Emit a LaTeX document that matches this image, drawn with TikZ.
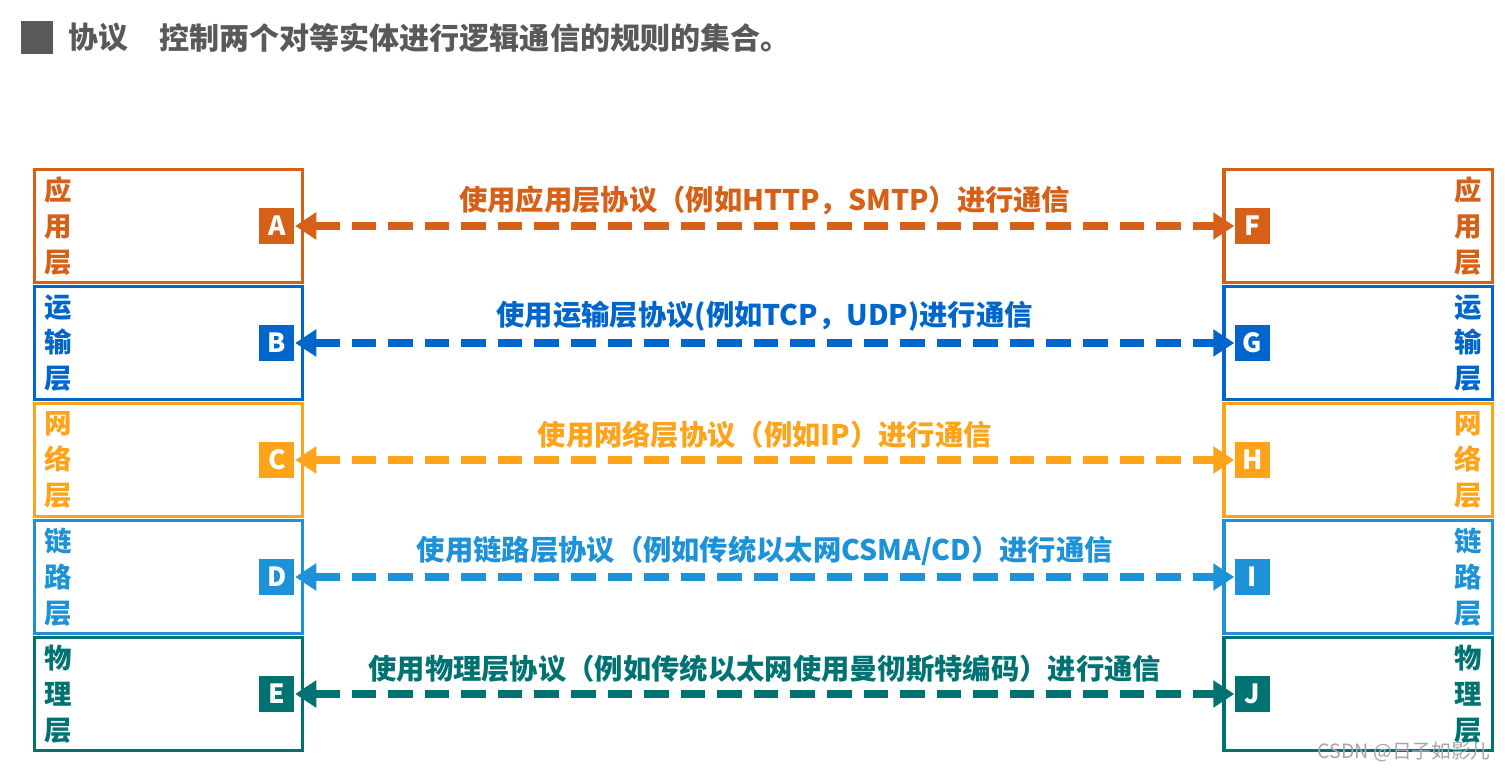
\documentclass[tikz,border=0pt]{standalone}
\usepackage{fontspec}
\newfontfamily\cjk{Noto Sans CJK SC}
\usetikzlibrary{arrows.meta, positioning}
\definecolor{titleGray}{RGB}{89, 89, 89}
\definecolor{appOrange}{RGB}{214, 96, 24}
\definecolor{tranBlue}{RGB}{0, 102, 204}
\definecolor{netAmber}{RGB}{255, 163, 26}
\definecolor{linkBlue}{RGB}{30, 146, 216}
\definecolor{phyTeal}{RGB}{0, 114, 114}

\begin{document}
\begin{tikzpicture}[
    x=0.01cm, y=-0.01cm,
    font=\cjk\bfseries,
    % Layer box (stacked protocol layer)
    layer/.style={
        draw,
        rectangle,
        line width=0.9pt,
        minimum width=2.68cm,
        minimum height=1.13cm,
        inner xsep=0.1cm,
        inner ysep=0pt,
        text width=2.48cm,
        font=\cjk\bfseries\fontsize{7.8}{10.2}\selectfont
    },
    layerL/.style={layer, align=left},
    layerR/.style={layer, align=right},
    % Peer entity tag
    peer/.style={
        rectangle,
        minimum size=0.35cm,
        inner sep=0pt,
        text=white,
        font=\cjk\bfseries\fontsize{7.5}{8}\selectfont
    },
    % Logical communication connector
    comm/.style={
        line width=2.4pt,
        dash pattern=on 7pt off 3.4pt,
        {Triangle[length=6pt,width=7.4pt]}-{Triangle[length=6pt,width=7.4pt]}
    },
    commlabel/.style={
        above=1pt,
        inner sep=1pt,
        font=\cjk\bfseries\fontsize{8.05}{10}\selectfont
    }
]
    \useasboundingbox (0,0) rectangle (1505,773);

    % Title
    \node (mark) [fill=titleGray, minimum width=0.31cm, minimum height=0.32cm, inner sep=0pt] at (37,37.5) {};
    \node (proto) [right=0.15cm of mark, inner sep=0pt, text=titleGray, font=\cjk\bfseries\fontsize{8.5}{10}\selectfont] {协议};
    \node (defn) [right=0.29cm of proto, inner sep=0pt, text=titleGray, font=\cjk\bfseries\fontsize{8.55}{10}\selectfont] {控制两个对等实体进行逻辑通信的规则的集合。};

    % Left stack
    \node (appL) [layerL, draw=appOrange, text=appOrange] at (168.5,226) {应\\用\\层};
    \node (tranL) [layerL, draw=tranBlue, text=tranBlue] at (168.5,343) {运\\输\\层};
    \node (netL) [layerL, draw=netAmber, text=netAmber] at (168.5,460) {网\\络\\层};
    \node (linkL) [layerL, draw=linkBlue, text=linkBlue] at (168.5,577) {链\\路\\层};
    \node (phyL) [layerL, draw=phyTeal, text=phyTeal] at (168.5,694) {物\\理\\层};

    % Right stack
    \node (appR) [layerR, draw=appOrange, text=appOrange] at (1358,226) {应\\用\\层};
    \node (tranR) [layerR, draw=tranBlue, text=tranBlue] at (1358,343) {运\\输\\层};
    \node (netR) [layerR, draw=netAmber, text=netAmber] at (1358,460) {网\\络\\层};
    \node (linkR) [layerR, draw=linkBlue, text=linkBlue] at (1358,577) {链\\路\\层};
    \node (phyR) [layerR, draw=phyTeal, text=phyTeal] at (1358,694) {物\\理\\层};

    % Peer entities
    \node (A) [peer, fill=appOrange, left=0.09cm of appL.east] {A};
    \node (B) [peer, fill=tranBlue, left=0.09cm of tranL.east] {B};
    \node (C) [peer, fill=netAmber, left=0.09cm of netL.east] {C};
    \node (D) [peer, fill=linkBlue, left=0.09cm of linkL.east] {D};
    \node (E) [peer, fill=phyTeal, left=0.09cm of phyL.east] {E};
    \node (F) [peer, fill=appOrange, right=0.12cm of appR.west] {F};
    \node (G) [peer, fill=tranBlue, right=0.12cm of tranR.west] {G};
    \node (H) [peer, fill=netAmber, right=0.12cm of netR.west] {H};
    \node (I) [peer, fill=linkBlue, right=0.12cm of linkR.west] {I};
    \node (J) [peer, fill=phyTeal, right=0.12cm of phyR.west] {J};

    % Logical communication
    \draw [comm, appOrange] (A) -- node[commlabel] {使用应用层协议（例如HTTP，SMTP）进行通信} (F);
    \draw [comm, tranBlue] (B) -- node[commlabel] {使用运输层协议(例如TCP，UDP)进行通信} (G);
    \draw [comm, netAmber] (C) -- node[commlabel] {使用网络层协议（例如IP）进行通信} (H);
    \draw [comm, linkBlue] (D) -- node[commlabel] {使用链路层协议（例如传统以太网CSMA/CD）进行通信} (I);
    \draw [comm, phyTeal] (E) -- node[commlabel] {使用物理层协议（例如传统以太网使用曼彻斯特编码）进行通信} (J);

    % Watermark
    \node (mark2) [text=gray!70, inner sep=0pt, font=\cjk\fontsize{5.6}{6}\selectfont] at (1404,752) {CSDN @日子如影儿};

\end{tikzpicture}
\end{document}
